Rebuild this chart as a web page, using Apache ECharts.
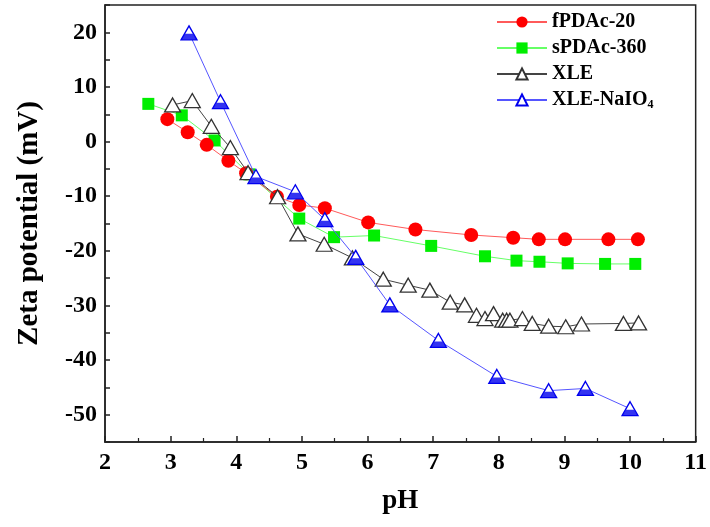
<!DOCTYPE html>
<html>
<head>
<meta charset="UTF-8">
<title>Zeta potential vs pH</title>
<script src="https://cdn.jsdelivr.net/npm/echarts@6/dist/echarts.min.js"></script>
<style>
  html, body { margin: 0; padding: 0; background: #fff; }
  #chart { width: 710px; height: 527px; }
</style>
</head>
<body>
<div id="chart"></div>
<script>
  // data: [pH, zeta potential (mV)]
  const fPDAc20 = [
    [2.95, 4.1], [3.26, 1.7], [3.55, -0.6], [3.88, -3.5], [4.15, -5.8],
    [4.62, -10.1], [4.96, -11.6], [5.35, -12.2], [6.01, -14.8], [6.73, -16.1],
    [7.58, -17.1], [8.22, -17.6], [8.61, -17.9], [9.01, -17.9], [9.67, -17.9], [10.12, -17.9]
  ];
  const sPDAc360 = [
    [2.66, 6.9], [3.17, 4.8], [3.67, 0.2], [4.2, -6.0], [4.96, -14.1],
    [5.49, -17.5], [6.10, -17.2], [6.97, -19.1], [7.79, -21.0], [8.27, -21.8],
    [8.62, -22.0], [9.05, -22.3], [9.62, -22.4], [10.08, -22.4]
  ];
  const xle = [
    [3.03, 6.7], [3.33, 7.5], [3.62, 2.8], [3.91, -1.1], [4.18, -5.7],
    [4.63, -10.1], [4.94, -16.9], [5.34, -18.8], [5.77, -21.3], [6.24, -25.2],
    [6.62, -26.3], [6.95, -27.2], [7.26, -29.4], [7.48, -29.9], [7.66, -31.8],
    [7.79, -32.4], [7.92, -31.5], [8.06, -32.7], [8.12, -32.7], [8.17, -32.7],
    [8.36, -32.4], [8.51, -33.3], [8.76, -33.8], [9.02, -33.9], [9.26, -33.4],
    [9.9, -33.3], [10.13, -33.2]
  ];
  const xleNaIO4 = [
    [3.28, 19.9], [3.76, 7.3], [4.30, -6.4], [4.90, -9.2], [5.35, -14.3],
    [5.82, -21.2], [6.34, -29.9], [7.08, -36.4], [7.97, -43.0], [8.76, -45.6],
    [9.32, -45.2], [10.0, -48.9]
  ];
  const seriesNames = ['fPDAc-20', 'sPDAc-360', 'XLE', 'XLE-NaIO4'];

  const font = 'Liberation Serif, Times New Roman, serif';
  const chart = echarts.init(document.getElementById('chart'));

  const option = {
    backgroundColor: '#fff',
    animation: false,
    grid: {
      left: 105, right: 13, top: 5, bottom: 85,
      show: true, borderColor: '#222', borderWidth: 1.5
    },
    legend: {
      data: seriesNames,
      orient: 'vertical',
      left: 496, top: 12, padding: 0,
      itemWidth: 50, itemHeight: 14, itemGap: 6,
      textStyle: {
        fontFamily: font, fontWeight: 'bold', fontSize: 20, color: '#000',
        rich: { sub: { fontFamily: font, fontWeight: 'bold', fontSize: 12, verticalAlign: 'bottom', padding: [10, 0, 0, 0] } }
      },
      formatter: function (name) {
        return name === 'XLE-NaIO4' ? 'XLE-NaIO{sub|4}' : name;
      }
    },
    xAxis: {
      type: 'value', min: 2, max: 11, interval: 1,
      name: 'pH', nameLocation: 'middle', nameGap: 46,
      nameTextStyle: { fontFamily: font, fontWeight: 'bold', fontSize: 27, color: '#000' },
      axisLine: { onZero: false, lineStyle: { color: '#222', width: 1.5 } },
      axisTick: { inside: true, length: 6, lineStyle: { color: '#222', width: 1.5 } },
      minorTick: { show: true, splitNumber: 2, length: 4, lineStyle: { color: '#222', width: 1.2 } },
      axisLabel: { fontFamily: font, fontWeight: 'bold', fontSize: 24, color: '#000', margin: 9 },
      splitLine: { show: false }
    },
    yAxis: {
      type: 'value', min: -55, max: 25, interval: 5,
      name: 'Zeta potential (mV)', nameLocation: 'middle', nameGap: 61,
      nameTextStyle: { fontFamily: font, fontWeight: 'bold', fontSize: 29, color: '#000' },
      axisLine: { onZero: false, lineStyle: { color: '#222', width: 1.5 } },
      axisTick: { inside: true, length: 5, lineStyle: { color: '#222', width: 1.5 } },
      axisLabel: {
        fontFamily: font, fontWeight: 'bold', fontSize: 24, color: '#000', margin: 8,
        formatter: v => (v % 10 === 0 && v > -55 && v < 25) ? String(v) : ''
      },
      splitLine: { show: false }
    },
    series: [
      {
        name: 'fPDAc-20', type: 'line', data: fPDAc20,
        symbol: 'circle', symbolSize: 14,
        itemStyle: { color: '#ff0000' },
        lineStyle: { color: '#ff5a5a', width: 1 }, z: 3
      },
      {
        name: 'sPDAc-360', type: 'line', data: sPDAc360,
        symbol: 'rect', symbolSize: 12,
        itemStyle: { color: '#00ee00' },
        lineStyle: { color: '#66ff66', width: 1 }, z: 2
      },
      {
        name: 'XLE', type: 'line', data: xle,
        symbol: 'triangle', symbolSize: [16, 14],
        itemStyle: { color: '#fff', borderColor: '#333', borderWidth: 1.3 },
        lineStyle: { color: '#444', width: 1 }, z: 4
      },
      {
        name: 'XLE-NaIO4', type: 'line', data: xleNaIO4,
        symbol: 'triangle', symbolSize: [16, 14],
        itemStyle: { color: '#fff', borderColor: '#0000ee', borderWidth: 1.3 },
        lineStyle: { color: '#5555ff', width: 1 }, z: 5
      },
      {
        // filled lower half of the blue triangles
        name: 'XLE-NaIO4 fill', type: 'scatter', data: xleNaIO4,
        symbol: 'path://M4,0 L12,0 L16,6 L0,6 Z', symbolSize: [16, 6], symbolOffset: [0, 4],
        itemStyle: { color: '#0000ee' }, z: 6, silent: true
      }
    ]
  };

  chart.setOption(option);
</script>
</body>
</html>
